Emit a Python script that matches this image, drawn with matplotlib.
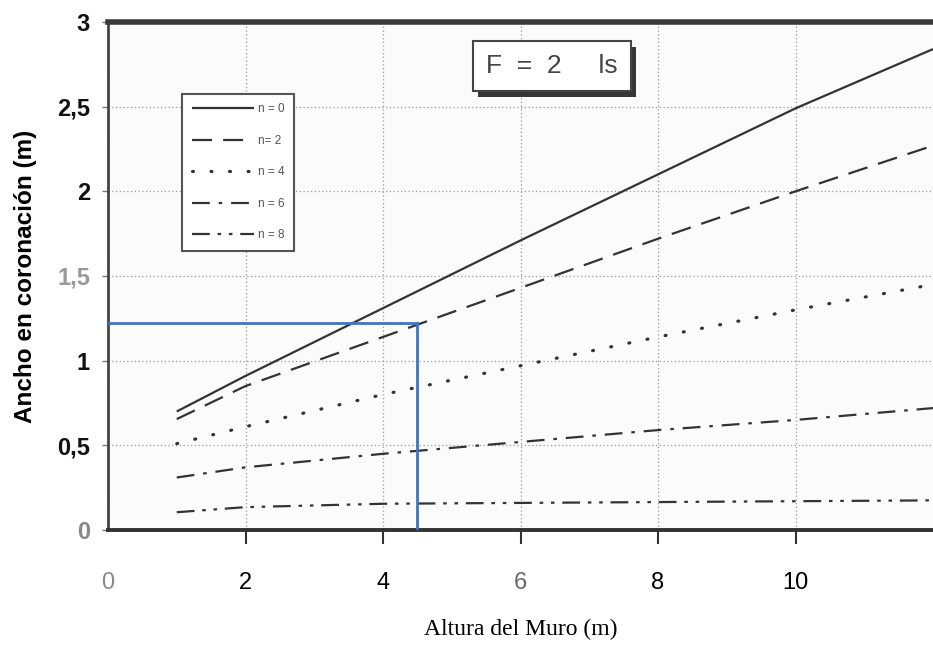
import matplotlib
matplotlib.use('Agg')
import matplotlib.pyplot as plt
import matplotlib.patheffects as pe

# ── Data ──
altura = [1, 2, 4, 6, 8, 10, 12]
ancho_n0 = [0.70, 0.91, 1.31, 1.71, 2.10, 2.49, 2.84]
ancho_n2 = [0.655, 0.85, 1.14, 1.43, 1.72, 2.00, 2.27]
ancho_n4 = [0.51, 0.61, 0.80, 0.97, 1.14, 1.30, 1.45]
ancho_n6 = [0.31, 0.37, 0.45, 0.52, 0.59, 0.65, 0.72]
ancho_n8 = [0.105, 0.135, 0.155, 0.16, 0.165, 0.17, 0.175]
series_labels = ['n = 0', 'n= 2', 'n = 4', 'n = 6', 'n = 8']

x_ticks = [0, 2, 4, 6, 8, 10]
y_ticks = [0, 0.5, 1, 1.5, 2, 2.5, 3]
y_tick_labels = ['0', '0,5', '1', '1,5', '2', '2,5', '3']

# blue reading guide
guia_x = 4.5
guia_y = 1.22

plt.rcParams['font.family'] = ['Liberation Sans', 'DejaVu Sans']

ink = '#333333'
styles = [
    ('-', 1.6, 'butt'),
    ((0, (9, 5)), 1.6, 'butt'),
    ((0, (0.3, 5.5)), 2.3, 'round'),
    ((0, (8, 4, 1.6, 4)), 1.6, 'butt'),
    ((0, (8, 3.5, 1.6, 3.5, 1.6, 3.5)), 1.6, 'butt'),
]

fig = plt.figure(figsize=(9.33, 6.48), dpi=100)
fig.patch.set_facecolor('white')
ax = fig.add_axes([108 / 933, 1 - 530 / 648, 1 - 108 / 933, (530 - 22) / 648])
ax.set_facecolor('#fbfbfb')

for ys, (ls, lw, cap), lab in zip([ancho_n0, ancho_n2, ancho_n4, ancho_n6, ancho_n8],
                                   styles, series_labels):
    ax.plot(altura, ys, linestyle=ls, color=ink, linewidth=lw, label=lab,
            dash_capstyle=cap, solid_capstyle='butt')

ax.plot([0, guia_x], [guia_y, guia_y], color='#4472c4', linewidth=2, zorder=4)
ax.plot([guia_x, guia_x], [0, guia_y], color='#4472c4', linewidth=2, zorder=4)

ax.set_xlim(0, 12)
ax.set_ylim(0, 3)
ax.set_xticks(x_ticks)
ax.set_yticks(y_ticks)
ax.set_yticklabels(y_tick_labels)
ax.grid(True, linestyle=(0, (1, 2)), color='#999999', linewidth=0.9)

ax.spines['right'].set_visible(False)
ax.spines['left'].set_linewidth(2)
ax.spines['left'].set_color('#444444')
ax.spines['bottom'].set_linewidth(2.8)
ax.spines['bottom'].set_color('#333333')
ax.spines['top'].set_linewidth(4)
ax.spines['top'].set_color('#3a3a3a')

ax.tick_params(axis='x', direction='out', length=10, width=1.5, color='#333333',
               pad=20, labelsize=17)
ax.tick_params(axis='y', direction='out', length=4, width=1, color='#777777',
               pad=9, labelsize=17)
for t in ax.get_yticklabels():
    t.set_fontweight('bold')
    t.set_color('#111111')
ax.get_yticklabels()[0].set_color('#888888')
ax.get_yticklabels()[3].set_color('#999999')
ax.get_xticklabels()[0].set_color('#888888')
ax.get_xticklabels()[3].set_color('#666666')
ax.xaxis.get_major_ticks()[0].tick1line.set_visible(False)

ax.set_ylabel('Ancho en coronación (m)', fontsize=17.5, fontweight='bold', labelpad=14)
ax.set_xlabel('Altura del Muro (m)', fontsize=17, family='Liberation Serif', labelpad=18)

leg = ax.legend(loc='upper left', bbox_to_anchor=(0.083, 0.87), fontsize=8.5,
                handlelength=5.3, labelspacing=1.65, handletextpad=0.3,
                borderpad=0.8, fancybox=False, framealpha=1, edgecolor='#555555')
leg.get_frame().set_linewidth(1.5)
for t in leg.get_texts():
    t.set_color('#555555')

title = ax.text(0.538, 0.913, 'F  =  2     ls', transform=ax.transAxes, fontsize=19,
                color='#444444', ha='center', va='center', zorder=5,
                bbox=dict(boxstyle='square,pad=0.5', facecolor='white',
                          edgecolor='#444444', linewidth=1.5))
title.get_bbox_patch().set_path_effects([
    pe.SimplePatchShadow(offset=(4, -4), shadow_rgbFace='#222222', alpha=0.9),
    pe.Normal(),
])

fig.savefig('out.png', dpi=100, facecolor='white')
